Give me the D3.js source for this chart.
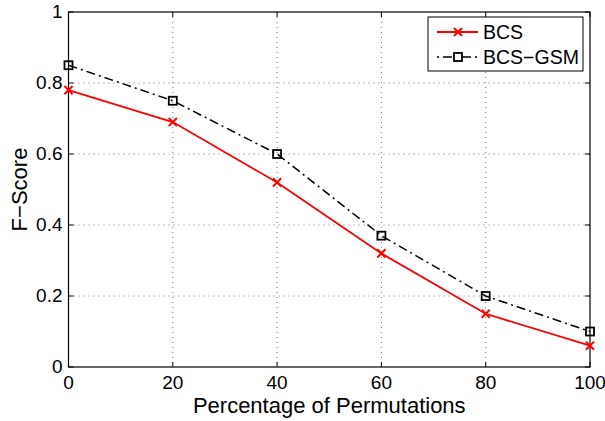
<!DOCTYPE html>
<head>
<meta charset="utf-8">
<script src="https://d3js.org/d3.v7.min.js"></script>
<style>
body { margin: 0; background: white; font-family: 'Liberation Sans', Arial, sans-serif; }
.grid line { stroke: #555; stroke-width: 0.8; stroke-dasharray: 1,4; }
</style>
</head>
<body>
<div id="plotContainer"></div>
<script>

var xVals = [0, 20, 40, 60, 80, 100];
var bcs = [0.78, 0.69, 0.52, 0.32, 0.15, 0.06];
var bcsGsm = [0.85, 0.75, 0.60, 0.37, 0.20, 0.10];
var xTicks = [0, 20, 40, 60, 80, 100];
var yTicks = [0, 0.2, 0.4, 0.6, 0.8, 1];

var W = 605, H = 421;
var margin = {top: 12, right: 15, bottom: 54, left: 68.5};
var width = W - margin.left - margin.right,
    height = H - margin.top - margin.bottom;

var svg = d3.select("#plotContainer").append("svg")
    .attr("width", W).attr("height", H);

var g = svg.append("g")
    .attr("transform", "translate(" + margin.left + "," + margin.top + ")");

var x = d3.scaleLinear().domain([0, 100]).range([0, width]);
var y = d3.scaleLinear().domain([0, 1]).range([height, 0]);

// grid
var grid = g.append("g").attr("class", "grid");
grid.selectAll(".gx").data(xTicks.slice(1, -1)).enter().append("line")
    .attr("x1", d => x(d)).attr("x2", d => x(d))
    .attr("y1", 0).attr("y2", height);
grid.selectAll(".gy").data(yTicks.slice(1, -1)).enter().append("line")
    .attr("y1", d => y(d)).attr("y2", d => y(d))
    .attr("x1", 0).attr("x2", width);

// ticks (inside, all four sides)
var tk = 5;
var ticks = g.append("g").attr("stroke", "black").attr("stroke-width", 1);
xTicks.forEach(function(d) {
  ticks.append("line").attr("x1", x(d)).attr("x2", x(d)).attr("y1", height).attr("y2", height - tk);
  ticks.append("line").attr("x1", x(d)).attr("x2", x(d)).attr("y1", 0).attr("y2", tk);
});
yTicks.forEach(function(d) {
  ticks.append("line").attr("y1", y(d)).attr("y2", y(d)).attr("x1", 0).attr("x2", tk);
  ticks.append("line").attr("y1", y(d)).attr("y2", y(d)).attr("x1", width).attr("x2", width - tk);
});

// frame
g.append("rect").attr("width", width).attr("height", height)
    .attr("fill", "none").attr("stroke", "black").attr("stroke-width", 1.2);

// tick labels
g.selectAll(".xl").data(xTicks).enter().append("text")
    .attr("x", d => x(d)).attr("y", height + 22)
    .attr("text-anchor", "middle").attr("font-size", 19)
    .text(d => d);
g.selectAll(".yl").data(yTicks).enter().append("text")
    .attr("x", -6).attr("y", d => y(d) + 6)
    .attr("text-anchor", "end").attr("font-size", 19)
    .text(d => d);

// axis titles
svg.append("text")
    .attr("x", margin.left + width / 2).attr("y", H - 8)
    .attr("text-anchor", "middle").attr("font-size", 22)
    .text("Percentage of Permutations");
svg.append("text")
    .attr("transform", "translate(27," + (margin.top + height / 2) + ") rotate(-90)")
    .attr("text-anchor", "middle").attr("font-size", 22)
    .text("F\u2212Score");

var line = d3.line().x((d, i) => x(xVals[i])).y(d => y(d));

// BCS-GSM
g.append("path").datum(bcsGsm).attr("d", line)
    .attr("fill", "none").attr("stroke", "black").attr("stroke-width", 1.5)
    .attr("stroke-dasharray", "9,4,2,4");
g.selectAll(".sq").data(bcsGsm).enter().append("rect")
    .attr("x", (d, i) => x(xVals[i]) - 4).attr("y", d => y(d) - 4)
    .attr("width", 8).attr("height", 8)
    .attr("fill", "none").attr("stroke", "black").attr("stroke-width", 1.8);

// BCS
g.append("path").datum(bcs).attr("d", line)
    .attr("fill", "none").attr("stroke", "red").attr("stroke-width", 1.8);
var cross = d3.symbol().type(d3.symbolTimes).size(45);
g.selectAll(".cx").data(bcs).enter().append("path")
    .attr("d", cross)
    .attr("transform", (d, i) => "translate(" + x(xVals[i]) + "," + y(d) + ")")
    .attr("fill", "none").attr("stroke", "red").attr("stroke-width", 2);

// legend
var lg = svg.append("g").attr("transform", "translate(428,17)");
lg.append("rect").attr("width", 155).attr("height", 54)
    .attr("fill", "white").attr("stroke", "black").attr("stroke-width", 1);
lg.append("line").attr("x1", 9).attr("x2", 50).attr("y1", 15).attr("y2", 15)
    .attr("stroke", "red").attr("stroke-width", 1.8);
lg.append("path").attr("d", cross).attr("transform", "translate(30,15)")
    .attr("fill", "none").attr("stroke", "red").attr("stroke-width", 2);
lg.append("text").attr("x", 55).attr("y", 22).attr("font-size", 19.5).text("BCS");
lg.append("line").attr("x1", 9).attr("x2", 50).attr("y1", 40).attr("y2", 40)
    .attr("stroke", "black").attr("stroke-width", 1.5).attr("stroke-dasharray", "2,4,9,4");
lg.append("rect").attr("x", 26).attr("y", 36).attr("width", 8).attr("height", 8)
    .attr("fill", "white").attr("stroke", "black").attr("stroke-width", 1.8);
lg.append("text").attr("x", 55).attr("y", 47).attr("font-size", 19.5).text("BCS\u2212GSM");

</script>
</body>
